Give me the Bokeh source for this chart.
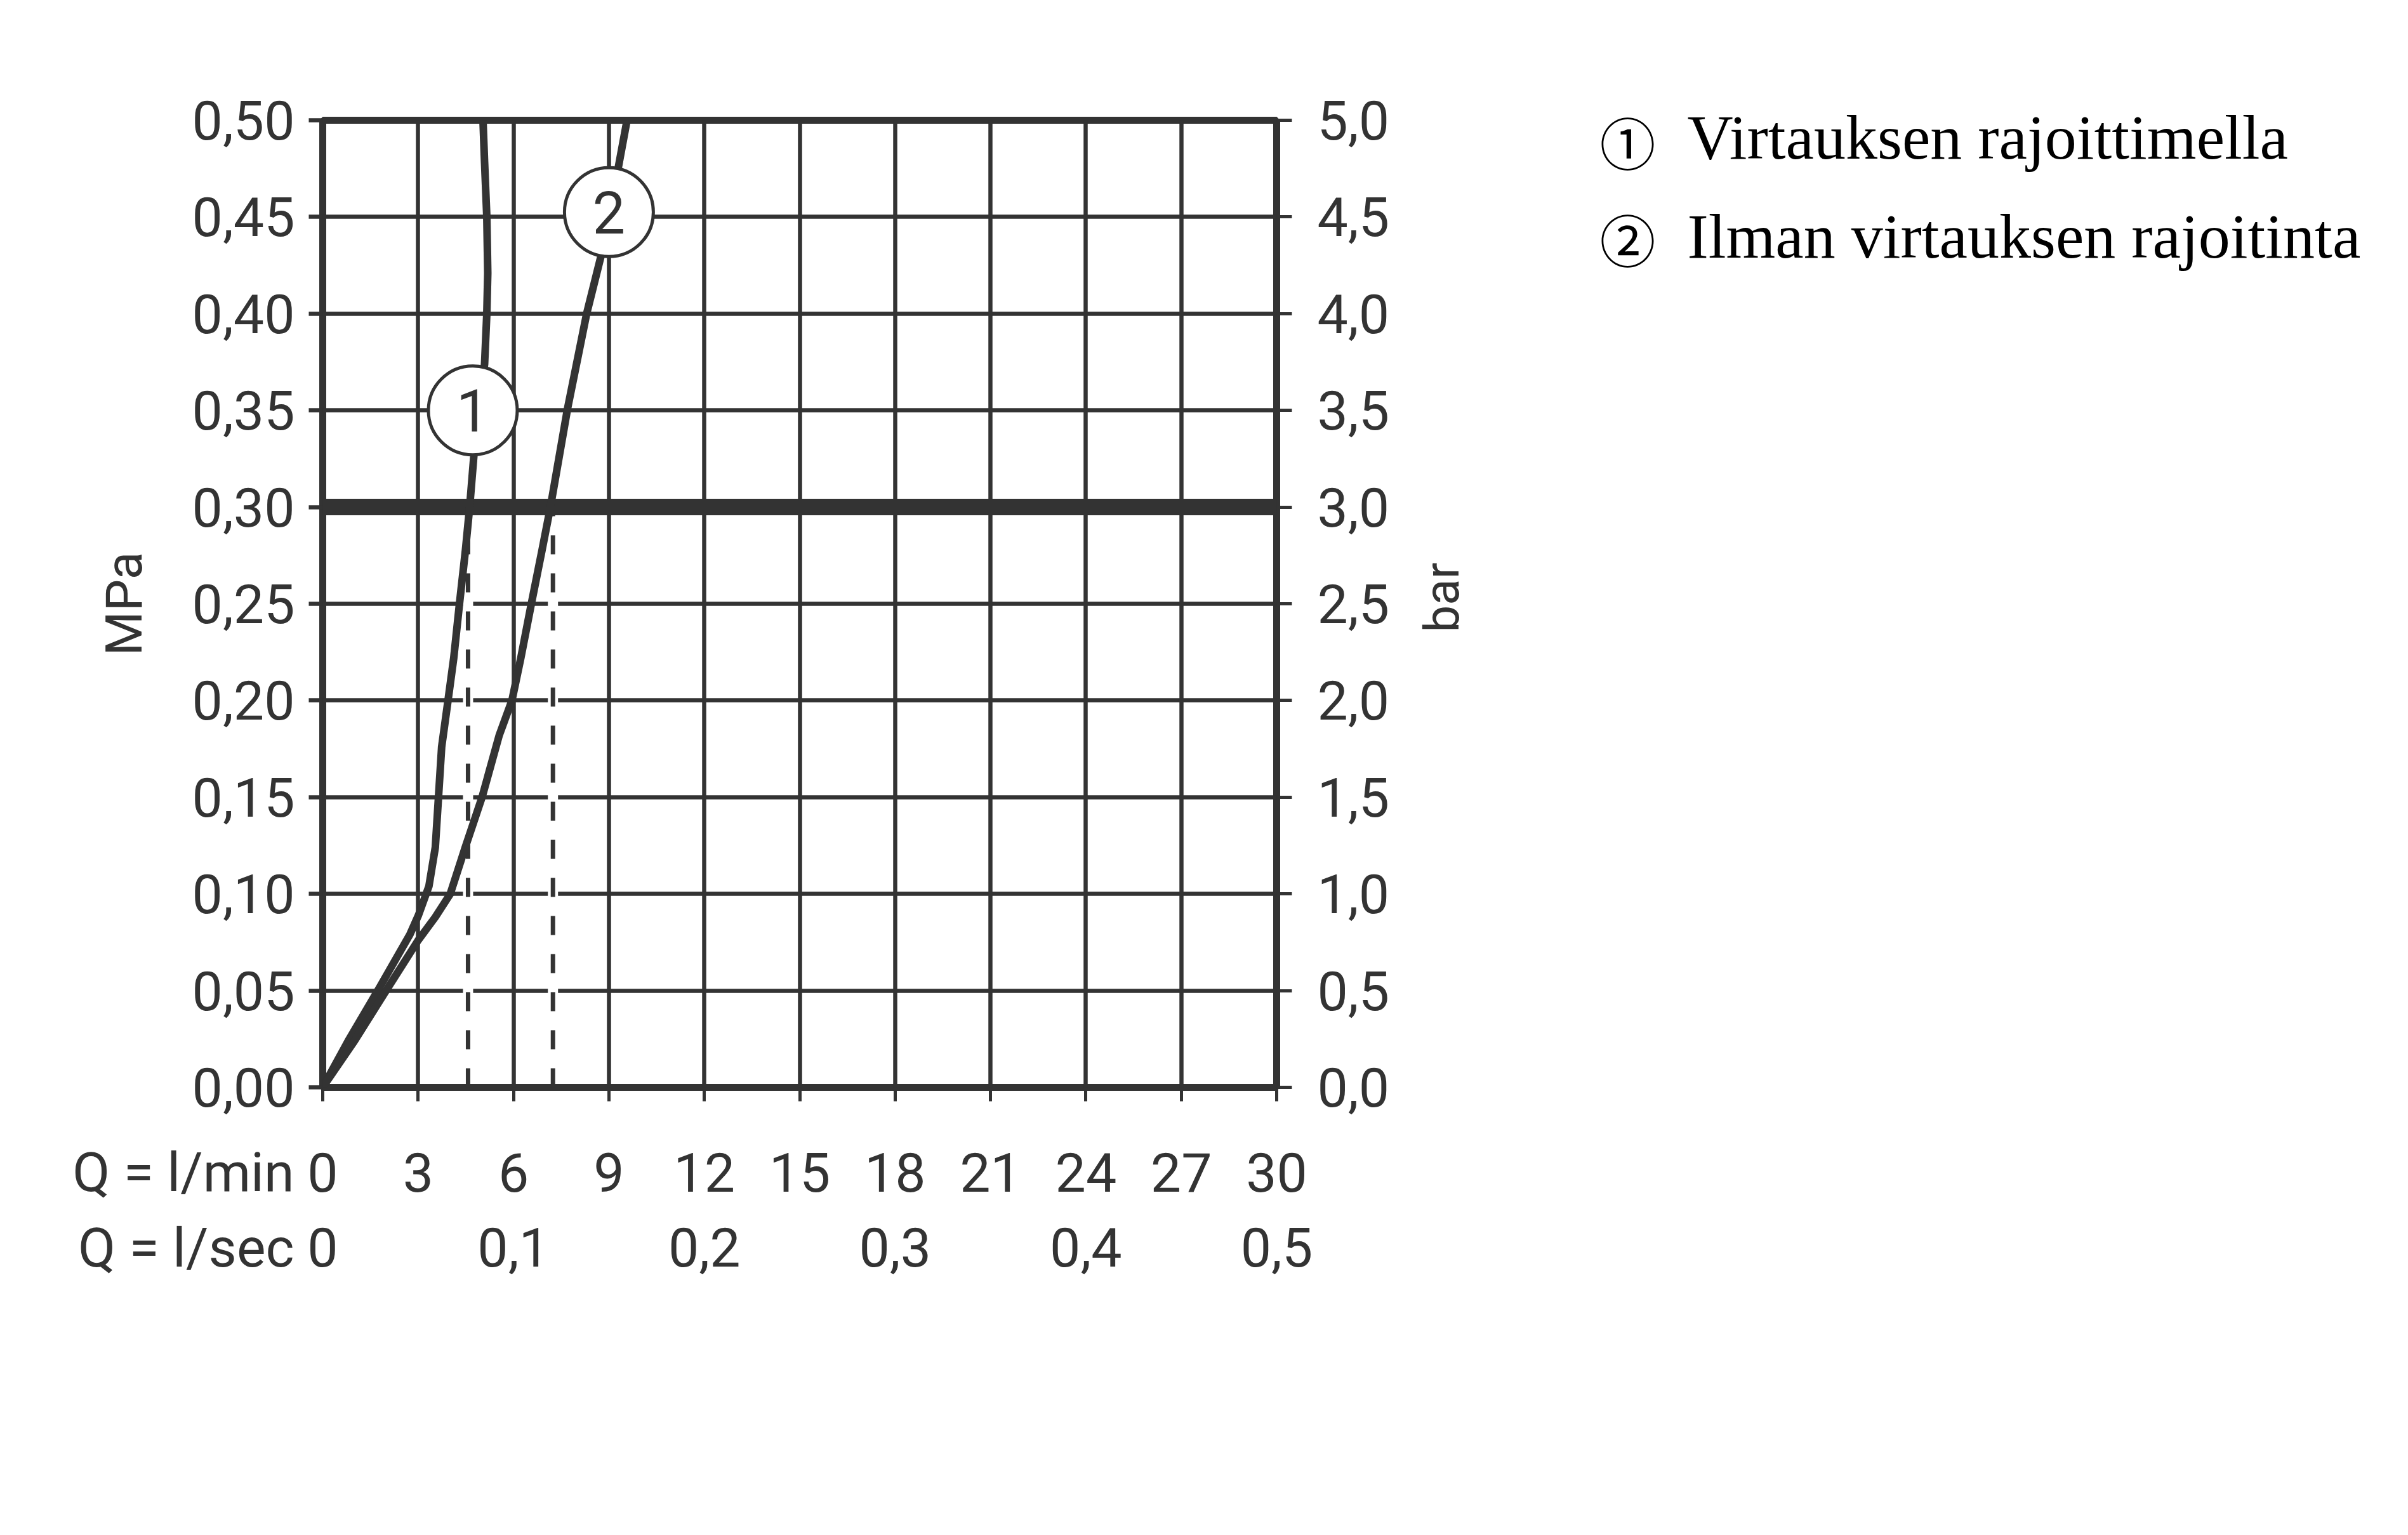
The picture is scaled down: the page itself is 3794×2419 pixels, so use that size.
import math
from bokeh.plotting import figure
from bokeh.models import Range1d, LinearAxis, FixedTicker, Span, Label, Grid
from bokeh.embed import file_html
from bokeh.resources import INLINE
from bokeh.core.properties import value

# ---------------- data ----------------
q_min_ticks = [0, 3, 6, 9, 12, 15, 18, 21, 24, 27, 30]
q_min_labels = ["0", "3", "6", "9", "12", "15", "18", "21", "24", "27", "30"]
q_sec_pos = [0, 6, 12, 18, 24, 30]           # l/min positions of the l/sec labels
q_sec_labels = ["0", "0,1", "0,2", "0,3", "0,4", "0,5"]
mpa_ticks = [0.0, 0.05, 0.1, 0.15, 0.2, 0.25, 0.3, 0.35, 0.4, 0.45, 0.5]
mpa_labels = ["0,00", "0,05", "0,10", "0,15", "0,20", "0,25", "0,30", "0,35", "0,40", "0,45", "0,50"]
bar_ticks = [0.0, 0.5, 1.0, 1.5, 2.0, 2.5, 3.0, 3.5, 4.0, 4.5, 5.0]
bar_labels = ["0,0", "0,5", "1,0", "1,5", "2,0", "2,5", "3,0", "3,5", "4,0", "4,5", "5,0"]

# curve 1: with flow limiter
c1_q = [0, 0.8, 1.8, 2.74, 3.01, 3.34, 3.54, 3.64, 3.74, 3.94, 4.12, 4.30, 4.49, 4.62, 4.76, 5.09, 5.16, 5.19, 5.16, 5.09, 5.04]
c1_p = [0, 0.024, 0.052, 0.079, 0.089, 0.104, 0.124, 0.15, 0.176, 0.20, 0.222, 0.25, 0.278, 0.30, 0.328, 0.374, 0.40, 0.421, 0.45, 0.478, 0.50]
# curve 2: without flow limiter
c2_q = [0, 1.0, 2.07, 3.0, 3.54, 4.01, 4.48, 5.01, 5.55, 5.95, 6.23, 6.56, 6.90, 7.16, 7.70, 8.30, 8.77, 9.30, 9.57]
c2_p = [0, 0.024, 0.052, 0.076, 0.088, 0.10, 0.124, 0.15, 0.182, 0.20, 0.222, 0.25, 0.278, 0.30, 0.351, 0.40, 0.431, 0.476, 0.50]

limit_p = 0.30                 # reference pressure (3 bar)
limit_q = [4.57, 7.24]         # flows at reference pressure
marker_q = [4.72, 9.0]
marker_p = [0.35, 0.4525]
marker_text = ["1", "2"]
legend_nums = ["\u2460", "\u2461"]
legend_text = ["Virtauksen rajoittimella", "Ilman virtauksen rajoitinta"]

# ---------------- layout ----------------
FL, FT, FW, FH = 508, 189, 1503, 1524
RB = 1759                      # right border, wide enough for the legend
INK = "#333333"


def qx(page_x):
    return (page_x - FL) / FW * 30.0


def py(page_y):
    return (FT + FH - page_y) / FH * 0.5


p = figure(frame_width=FW, frame_height=FH,
           min_border_left=FL, min_border_top=FT,
           min_border_right=RB, min_border_bottom=200,
           x_range=Range1d(0, 30), y_range=Range1d(0, 0.5),
           x_axis_location=None, y_axis_location=None,
           output_backend="svg", toolbar_location=None)
for g in p.grid:
    g.visible = False
p.outline_line_color = INK
p.outline_line_width = 11
p.background_fill_color = "white"
p.border_fill_color = "white"

p.extra_y_ranges = {"bar": Range1d(0, 5)}

FONT = "Roboto"
TS = "86px"

# grids
p.add_layout(Grid(dimension=0, ticker=FixedTicker(ticks=q_min_ticks), grid_line_color=INK, grid_line_width=6.5))
p.add_layout(Grid(dimension=1, ticker=FixedTicker(ticks=mpa_ticks), grid_line_color=INK, grid_line_width=6.5))

# left axis (MPa)
la = LinearAxis(ticker=FixedTicker(ticks=mpa_ticks), major_label_overrides=dict(zip(mpa_ticks, mpa_labels)),
                axis_label="MPa", axis_line_color=None,
                major_tick_out=22, major_tick_in=0, major_tick_line_width=6.5, major_tick_line_color=INK,
                minor_tick_line_color=None, major_label_standoff=22,
                major_label_text_font=FONT, major_label_text_font_size=TS, major_label_text_color=INK,
                axis_label_text_font=FONT, axis_label_text_font_size="80px", axis_label_text_font_style="normal",
                axis_label_text_color=INK, axis_label_standoff=57)
p.add_layout(la, "left")

# right axis (bar)
ra = LinearAxis(y_range_name="bar", ticker=FixedTicker(ticks=bar_ticks),
                major_label_overrides=dict(zip(bar_ticks, bar_labels)),
                axis_line_color=None,
                major_tick_out=24, major_tick_in=0, major_tick_line_width=5, major_tick_line_color=INK,
                minor_tick_line_color=None, major_label_standoff=40,
                major_label_text_font=FONT, major_label_text_font_size=TS, major_label_text_color=INK)
p.add_layout(ra, "right")

# bottom: tick marks only
ba = LinearAxis(ticker=FixedTicker(ticks=q_min_ticks), axis_line_color=None,
                major_tick_out=22, major_tick_in=0, major_tick_line_width=5, major_tick_line_color=INK,
                minor_tick_line_color=None, major_label_standoff=0,
                major_label_text_font_size="1px", major_label_text_alpha=0)
p.add_layout(ba, "below")

# bottom: l/min labels
bb = LinearAxis(ticker=FixedTicker(ticks=q_min_ticks),
                major_label_overrides=dict(zip(q_min_ticks, q_min_labels)),
                axis_line_color=None, major_tick_line_color=None, minor_tick_line_color=None,
                major_tick_out=0, major_tick_in=0, major_label_standoff=81,
                major_label_text_font=FONT, major_label_text_font_size=TS, major_label_text_color=INK)
p.add_layout(bb, "below")

# bottom: l/sec labels
bc = LinearAxis(ticker=FixedTicker(ticks=q_sec_pos),
                major_label_overrides=dict(zip(q_sec_pos, q_sec_labels)),
                axis_line_color=None, major_tick_line_color=None, minor_tick_line_color=None,
                major_tick_out=0, major_tick_in=0, major_label_standoff=54,
                major_label_text_font=FONT, major_label_text_font_size=TS, major_label_text_color=INK)
p.add_layout(bc, "below")

# unit texts of the flow rows (kept in side panels so they are not clipped)
for txt, yy in (("Q = l/min", 1847), ("Q = l/sec", 1966)):
    p.add_layout(Label(x=qx(463), y=py(yy), text=txt, text_align="right", text_baseline="middle",
                       text_font=FONT, text_font_size=TS, text_color=INK), "below")

# right-hand unit label
p.add_layout(Label(x=qx(2271), y=py(941), text="bar", angle=math.pi / 2, text_align="center",
                   text_baseline="middle", text_font=FONT, text_font_size="76px", text_color=INK), "right")

# reference pressure line
p.add_layout(Span(location=limit_p, dimension="width", line_color=INK, line_width=26, level="underlay"))

# dashed drop lines with white casing
p.segment(x0=limit_q, y0=[0.004] * 2, x1=limit_q, y1=[limit_p - 0.005] * 2, line_color="white", line_width=16)
p.segment(x0=limit_q, y0=[0] * 2, x1=limit_q, y1=[limit_p] * 2, line_color=INK, line_width=7, line_dash="30 30")

# curves
p.line(c1_q, c1_p, line_color=INK, line_width=12, line_join="round")
p.line(c2_q, c2_p, line_color=INK, line_width=12, line_join="round")

# curve markers
p.scatter(marker_q, marker_p, marker="circle", size=140, fill_color="white", line_color=INK, line_width=5)
p.text(marker_q, marker_p, text=marker_text, text_align="center", text_baseline="middle",
       text_font=value(FONT), text_font_size="92px", text_color=INK)

# legend (texts placed in side panels; positions given in page pixels)
leg_num_y = [221, 374]
leg_txt_y = [216, 372]
leg_txt_place = ["below", "right"]
for i in range(2):
    p.add_layout(Label(x=qx(2564), y=py(leg_num_y[i]), text=legend_nums[i], text_align="center",
                       text_baseline="middle", text_font="Noto Sans CJK JP", text_font_size="88px",
                       text_color="black"), "right")
    p.add_layout(Label(x=qx(2658), y=py(leg_txt_y[i]), text=legend_text[i], text_align="left",
                       text_baseline="middle", text_font="Liberation Serif", text_font_size="100px",
                       text_color="black"), leg_txt_place[i])

open("out.html", "w").write(file_html(p, INLINE))
